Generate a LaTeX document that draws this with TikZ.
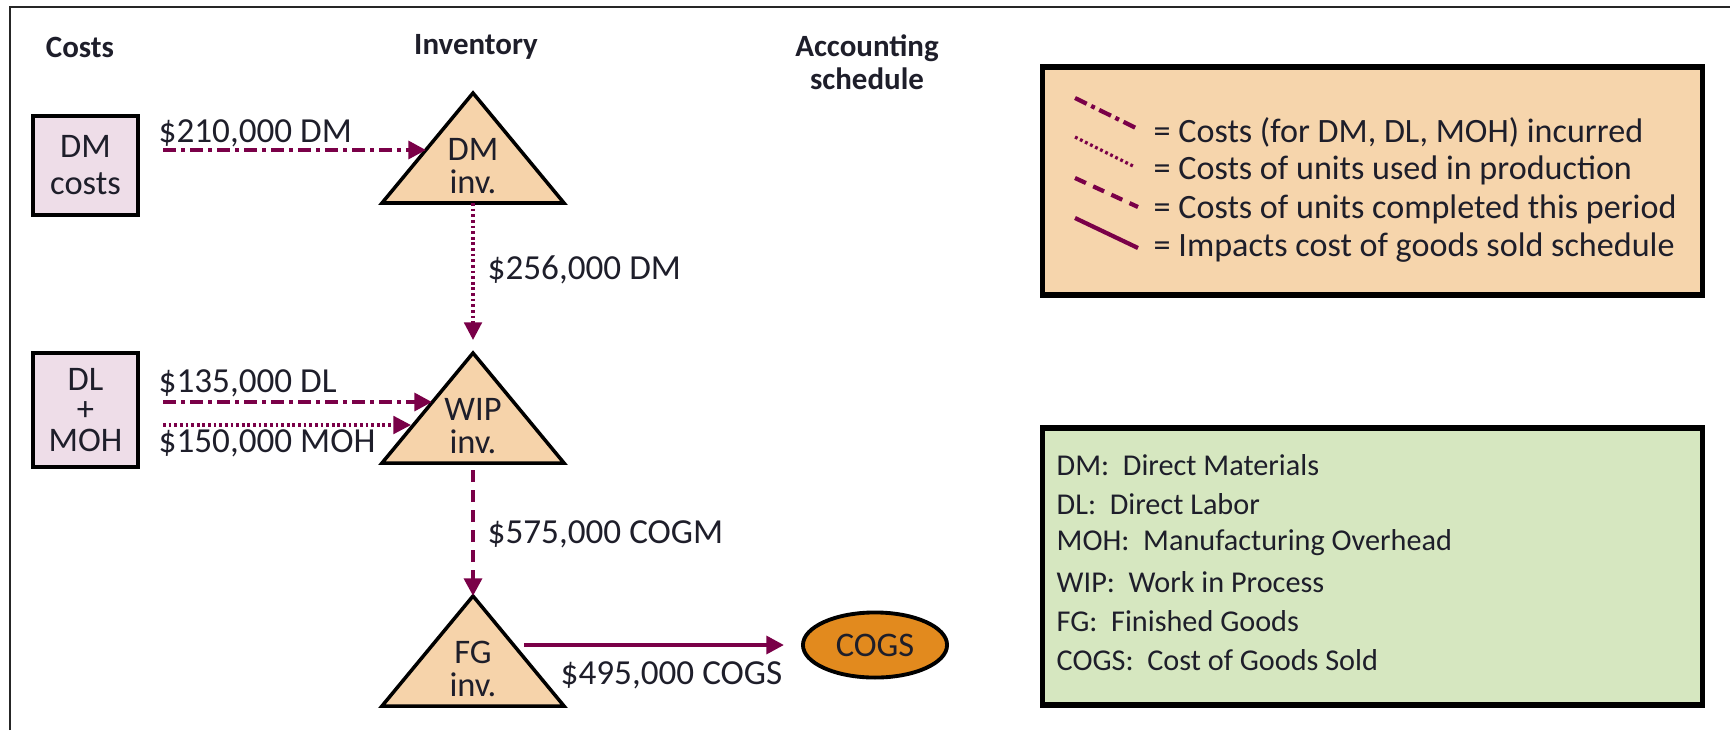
\documentclass[tikz,border=0pt]{standalone}
\usepackage{fontspec}
\setmainfont{Carlito}
\usetikzlibrary{arrows.meta,shapes.geometric}

\definecolor{flow}{RGB}{122,0,72}
\definecolor{ink}{RGB}{30,30,42}
\definecolor{costpink}{RGB}{238,221,232}
\definecolor{invpeach}{RGB}{246,211,170}
\definecolor{keypeach}{RGB}{246,213,172}
\definecolor{defgreen}{RGB}{214,231,192}
\definecolor{cogsorange}{RGB}{226,138,30}

\begin{document}
\begin{tikzpicture}[x=0.01cm, y=-0.01cm, text=ink,
    costbox/.style={
        rectangle,
        draw=black, line width=1.3pt,
        fill=costpink,
        minimum width=1.05cm,
        align=center,
        font=\fontsize{9.8}{10.5}\selectfont},
    invtri/.style={
        draw=black, line width=1pt,
        fill=invpeach,
        line join=miter},
    invtext/.style={
        align=center,
        font=\fontsize{9.8}{9.4}\selectfont},
    head/.style={
        align=center,
        font=\fontsize{8.8}{9.4}\selectfont\bfseries},
    amount/.style={
        anchor=west, inner sep=0pt,
        font=\fontsize{10}{12}\selectfont},
    keybox/.style={
        rectangle,
        draw=black, line width=1.5pt},
    keytext/.style={
        anchor=west, inner sep=0pt,
        font=\fontsize{9.7}{10}\selectfont},
    flowline/.style={
        draw=flow, line width=1.2pt},
    arrow/.style={
        flowline,
        -{Triangle[length=5pt,width=5pt]}},
    incurred/.style={dash pattern=on 0.13cm off 0.05cm on 0.04cm off 0.05cm},
    used/.style={line width=0.9pt, dash pattern=on 0.8pt off 0.8pt},
    completed/.style={dash pattern=on 0.12cm off 0.08cm}
    ]

    \useasboundingbox (0,0) rectangle (1730,730);
    \draw [line width=0.85pt, black!85] (10,730) -- (10,7) -- (1730,7);

    % column heads
    \node (costshead) [head] at (80,47) {Costs};
    \node (invhead) [head] at (476,47) {Inventory};
    \node (schedhead) [head] at (867,62) {Accounting\\schedule};

    % cost boxes
    \node (dmcost) [costbox, minimum height=0.99cm] at (85.5,165.5) {DM\\costs};
    \node (convcost) [costbox, minimum height=1.14cm, font=\fontsize{9.8}{8.6}\selectfont] at (85.5,410) {DL\\+\\MOH};

    % inventory triangles
    \filldraw [invtri] (473,93) coordinate (dmtop) -- (564,203) -- (382,203) -- cycle;
    \node (dminv) [invtext] at (473,166) {DM\\inv.};
    \filldraw [invtri] (473,353) coordinate (wiptop) -- (564,463) -- (382,463) -- cycle;
    \node (wipinv) [invtext] at (473,426) {WIP\\inv.};
    \filldraw [invtri] (473,596) coordinate (fgtop) -- (564,706) -- (382,706) -- cycle;
    \node (fginv) [invtext] at (473,669) {FG\\inv.};

    \node (cogs) [ellipse, draw=black, line width=1.1pt, fill=cogsorange,
        minimum width=1.37cm, minimum height=0.6cm,
        font=\fontsize{9.8}{12}\selectfont] at (875,645) {COGS};

    % arrow ends
    \coordinate (dmout) at (163,150);
    \coordinate (dmin) at (426,150);
    \coordinate (dlout) at (163,402);
    \coordinate (dlin) at (432,402);
    \coordinate (mohout) at (163,425);
    \coordinate (mohin) at (411,425);
    \coordinate (dmbase) at (473,203);
    \coordinate (wipbase) at (473,470);
    \coordinate (fgout) at (524,645);

    \draw [arrow, incurred] (dmout) -- (dmin);
    \draw [arrow, incurred] (dlout) -- (dlin);
    \draw [arrow, used] (mohout) -- (mohin);
    \draw [arrow, used, shorten >=0.13cm] (dmbase) -- (wiptop);
    \draw [arrow, completed] (wipbase) -- (fgtop);
    \draw [arrow, shorten >=0.17cm] (fgout) -- (cogs.west);

    % amounts
    \node (dmamt) [amount] at (158,133) {\$210,000 DM};
    \node (usedamt) [amount] at (487,270) {\$256,000 DM};
    \node (dlamt) [amount] at (158,383) {\$135,000 DL};
    \node (mohamt) [amount] at (158,443) {\$150,000 MOH};
    \node (cogmamt) [amount] at (487,534) {\$575,000 COGM};
    \node (cogsamt) [amount] at (560,675) {\$495,000 COGS};

    % line key
    \node (keybox) [keybox, fill=keypeach, minimum width=6.59cm, minimum height=2.28cm] at (1372.5,181) {};
    \draw [flowline, incurred] (1075,98) -- (1138,129);
    \draw [flowline, used] (1075,137) -- (1135,167);
    \draw [flowline, completed] (1075,178) -- (1138,207);
    \draw [flowline] (1075,218) -- (1138,248);
    \node (keyincurred) [keytext] at (1153,132) {= Costs (for DM, DL, MOH) incurred};
    \node (keyused) [keytext] at (1153,170) {= Costs of units used in production};
    \node (keydone) [keytext] at (1153,209) {= Costs of units completed this period};
    \node (keysold) [keytext] at (1153,248) {= Impacts cost of goods sold schedule};

    % abbreviations
    \node (defbox) [keybox, fill=defgreen, minimum width=6.59cm, minimum height=2.77cm] at (1372.5,566.5) {};
    \foreach \row/\txt in {0/{DM:\ \ Direct Materials}, 1/{DL:\ \ Direct Labor},
        2/{MOH:\ \ Manufacturing Overhead}, 3/{WIP:\ \ Work in Process},
        4/{FG:\ \ Finished Goods}, 5/{COGS:\ \ Cost of Goods Sold}}
        \node (def\row) [keytext, font=\fontsize{8.6}{10}\selectfont] at (1056,465+39*\row) {\txt};

\end{tikzpicture}
\end{document}
